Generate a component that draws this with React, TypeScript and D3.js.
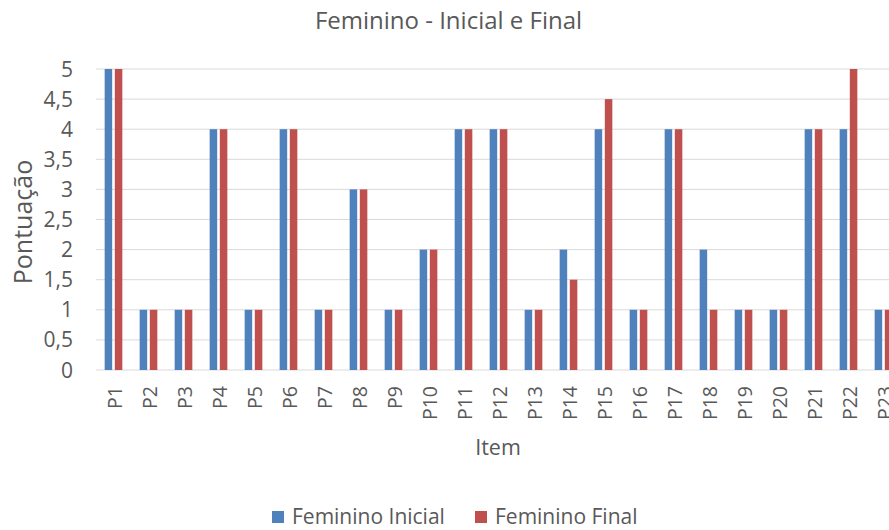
import React from "react";
import * as d3 from "d3";

const categories = ["P1","P2","P3","P4","P5","P6","P7","P8","P9","P10","P11","P12","P13","P14","P15","P16","P17","P18","P19","P20","P21","P22","P23"];
const inicial = [5,1,1,4,1,4,1,3,1,2,4,4,1,2,4,1,4,2,1,1,4,4,1];
const final = [5,1,1,4,1,4,1,3,1,2,4,4,1,1.5,4.5,1,4,1,1,1,4,5,1];
const yTicks = [0,0.5,1,1.5,2,2.5,3,3.5,4,4.5,5];
const seriesNames = ["Feminino Inicial", "Feminino Final"];
const colors = ["#4F81BD", "#C0504D"];

const W = 889, H = 530;
const FONT = "'Open Sans', sans-serif";
const TXT = "#595959";

export default function App() {
  const x = d3.scaleBand<string>().domain(categories).range([96, 96 + 35 * categories.length]).paddingInner(0).paddingOuter(0);
  const y = d3.scaleLinear().domain([0, 5]).range([370, 69]);
  const bw = x.bandwidth();
  const barW = bw * 0.215;
  const gap = bw * 0.075;
  const fmt = (v: number) => String(v).replace(".", ",");
  return (
    <svg width={W} height={H} style={{ position: "absolute", left: 0, top: 0, background: "#fff", overflow: "hidden" }} fontFamily={FONT}>
      <rect width={W} height={H} fill="#fff" />
      <text x={448.5} y={29} textAnchor="middle" fontSize={24} fill={TXT}>Feminino - Inicial e Final</text>
      {yTicks.map(t => (
        <g key={t}>
          <line x1={96} x2={W} y1={y(t)} y2={y(t)} stroke="#D9D9D9" strokeWidth={1} />
          <text x={73} y={y(t)} dy="0.36em" textAnchor="end" fontSize={21} fill={TXT}>{fmt(t)}</text>
        </g>
      ))}
      {categories.map((c, i) => {
        const cx = (x(c) as number) + bw / 2;
        return (
          <g key={c}>
            <rect x={cx - gap / 2 - barW} y={y(inicial[i])} width={barW} height={y(0) - y(inicial[i])} fill={colors[0]} />
            <rect x={cx + gap / 2} y={y(final[i])} width={barW} height={y(0) - y(final[i])} fill={colors[1]} />
            <text transform={`translate(${cx + 8.5},${386}) rotate(-90)`} textAnchor="end" fontSize={19.5} fill={TXT}>{c}</text>
          </g>
        );
      })}
      <text transform={`translate(32,222) rotate(-90)`} textAnchor="middle" fontSize={25} fill={TXT}>Pontuação</text>
      <text x={498} y={455} textAnchor="middle" fontSize={21.5} fill={TXT}>Item</text>
      <rect x={272} y={511} width={12} height={12} fill={colors[0]} />
      <text x={292} y={524} fontSize={21} fill={TXT}>{seriesNames[0]}</text>
      <rect x={475} y={511} width={12} height={12} fill={colors[1]} />
      <text x={495} y={524} fontSize={21} fill={TXT}>{seriesNames[1]}</text>
    </svg>
  );
}
